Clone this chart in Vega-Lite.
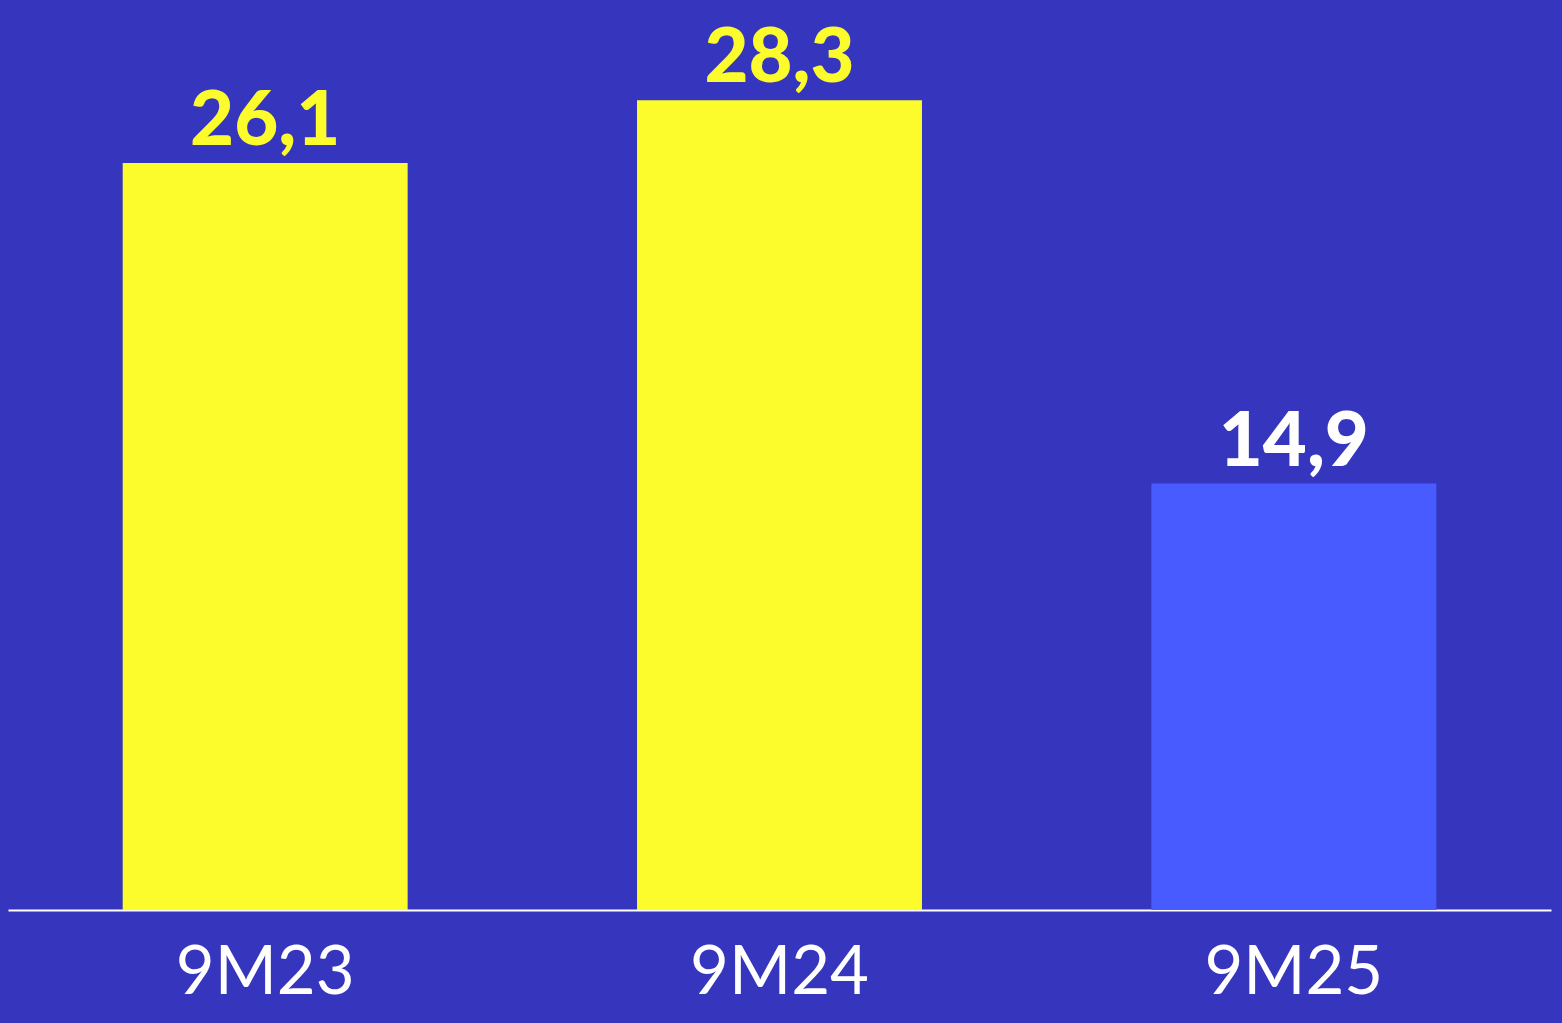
{
  "$schema": "https://vega.github.io/schema/vega-lite/v6.json",
  "autosize": "none",
  "width": 1543,
  "height": 910,
  "padding": {"left": 8, "top": 0, "right": 11, "bottom": 113},
  "background": "#3535BD",
  "view": {"stroke": null},
  "data": {
    "values": [
      {"period": "9M23", "value": 26.1, "label": "26,1", "group": "past"},
      {"period": "9M24", "value": 28.3, "label": "28,3", "group": "past"},
      {"period": "9M25", "value": 14.9, "label": "14,9", "group": "current"}
    ]
  },
  "encoding": {
    "x": {
      "field": "period",
      "type": "nominal",
      "sort": null,
      "scale": {"paddingInner": 0.446, "paddingOuter": 0.223},
      "axis": {
        "title": null,
        "ticks": false,
        "domainColor": "#FFFFFF",
        "domainWidth": 2,
        "labelColor": "#FFFFFF",
        "labelFont": "Lato",
        "labelFontSize": 67,
        "labelFontWeight": "normal",
        "labelAngle": 0,
        "labelBaseline": "alphabetic",
        "labelPadding": 83
      }
    },
    "y": {
      "field": "value",
      "type": "quantitative",
      "scale": {"domain": [0, 31.8], "nice": false, "zero": true},
      "axis": null
    }
  },
  "layer": [
    {
      "mark": {"type": "bar"},
      "encoding": {
        "color": {
          "field": "group",
          "type": "nominal",
          "scale": {"domain": ["past", "current"], "range": ["#FCFC2C", "#485BFF"]},
          "legend": null
        }
      }
    },
    {
      "mark": {"type": "text", "dy": -18, "baseline": "alphabetic", "font": "Lato", "fontWeight": 900, "fontSize": 76},
      "encoding": {
        "text": {"field": "label"},
        "color": {
          "field": "group",
          "type": "nominal",
          "scale": {"domain": ["past", "current"], "range": ["#FCFC2C", "#FFFFFF"]},
          "legend": null
        }
      }
    }
  ],
  "resolve": {"scale": {"color": "independent"}}
}
